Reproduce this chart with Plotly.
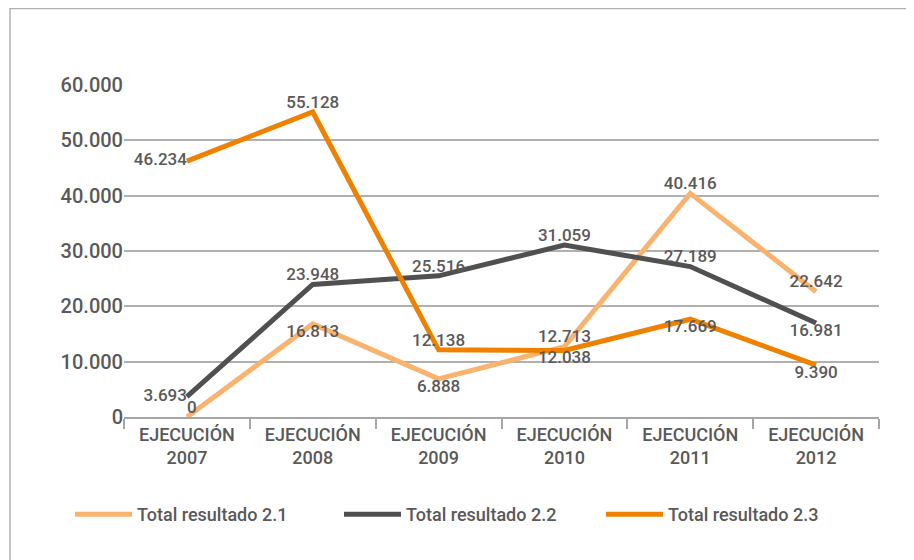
import plotly.graph_objects as go

categories = ["EJECUCIÓN<br>2007", "EJECUCIÓN<br>2008", "EJECUCIÓN<br>2009",
              "EJECUCIÓN<br>2010", "EJECUCIÓN<br>2011", "EJECUCIÓN<br>2012"]
res_21 = [0, 16813, 6888, 12713, 40416, 22642]
res_22 = [3693, 23948, 25516, 31059, 27189, 16981]
res_23 = [46234, 55128, 12138, 12038, 17669, 9390]
y_ticks = [0, 10000, 20000, 30000, 40000, 50000, 60000]

def fmt(v):
    return f"{v:,}".replace(",", ".")

FONT = "Roboto"
TXT = "#595959"
W = 500

series = [
    ("Total resultado 2.1", res_21, "#F9B36F",
     ["top right", "bottom center", "bottom center", "top center", "top center", "top center"]),
    ("Total resultado 2.2", res_22, "#505050",
     ["middle left", "top center", "top center", "top center", "top center", "bottom center"]),
    ("Total resultado 2.3", res_23, "#EE8100",
     ["middle left", "top center", "top center", "bottom center", "bottom center", "bottom center"]),
]
# one legend per series so the entries sit exactly where the reference has them
legend_ids = ["legend2", "legend3", "legend4"]
legend_x = [62, 331, 593]

fig = go.Figure()
for (name, vals, color, pos), lg in zip(series, legend_ids):
    fig.add_trace(go.Scatter(
        x=categories, y=vals, name=name, mode="lines+text",
        line=dict(color=color, width=5),
        text=[fmt(v) for v in vals], textposition=pos,
        textfont=dict(family=FONT, size=17, color=TXT, weight=W),
        cliponaxis=False, legend=lg,
    ))

fig.update_xaxes(type="category", range=[-0.5, 5.5], showgrid=False,
                 showline=True, linecolor="#A6A6A6", linewidth=2,
                 ticks="outside", tickson="boundaries", ticklen=10, tickcolor="#A6A6A6", tickwidth=2,
                 tickfont=dict(family=FONT, size=18, color=TXT, weight=W))
fig.update_yaxes(range=[0, 60000], tickvals=y_ticks, ticktext=[fmt(v) for v in y_ticks],
                 showgrid=True, gridcolor="#B0B0B0", gridwidth=1.5, zeroline=False,
                 ticks="", tickfont=dict(family=FONT, size=20, color=TXT, weight=W))

# plot area in pixels (page adds an 8px body margin)
L, R, T, B = 116, 43, 77, 151
pw, ph = 914 - L - R, 560 - T - B

# frame around the chart (top and left edges)
fig.add_shape(type="line", xref="paper", yref="paper",
              x0=-(L - 2) / pw, x1=1 + R / pw, y0=1 + (T - 0.5) / ph, y1=1 + (T - 0.5) / ph,
              line=dict(color="#B0B0B0", width=1.5))
fig.add_shape(type="line", xref="paper", yref="paper",
              x0=-(L - 2) / pw, x1=-(L - 2) / pw, y0=1 + T / ph, y1=-B / ph,
              line=dict(color="#B0B0B0", width=1.5))

legends = {}
for lg, lx in zip(legend_ids, legend_x):
    legends[lg] = dict(orientation="h", xref="container", yref="container",
                       x=lx / 914, y=1 - 488 / 560, xanchor="left", yanchor="top",
                       itemwidth=57,
                       font=dict(family=FONT, size=18, color=TXT, weight=W))

fig.update_layout(
    width=914, height=560,
    margin=dict(l=L, r=R, t=T, b=B),
    plot_bgcolor="white", paper_bgcolor="white",
    font=dict(family=FONT, color=TXT),
    **legends,
)

fig.write_html("out.html")
